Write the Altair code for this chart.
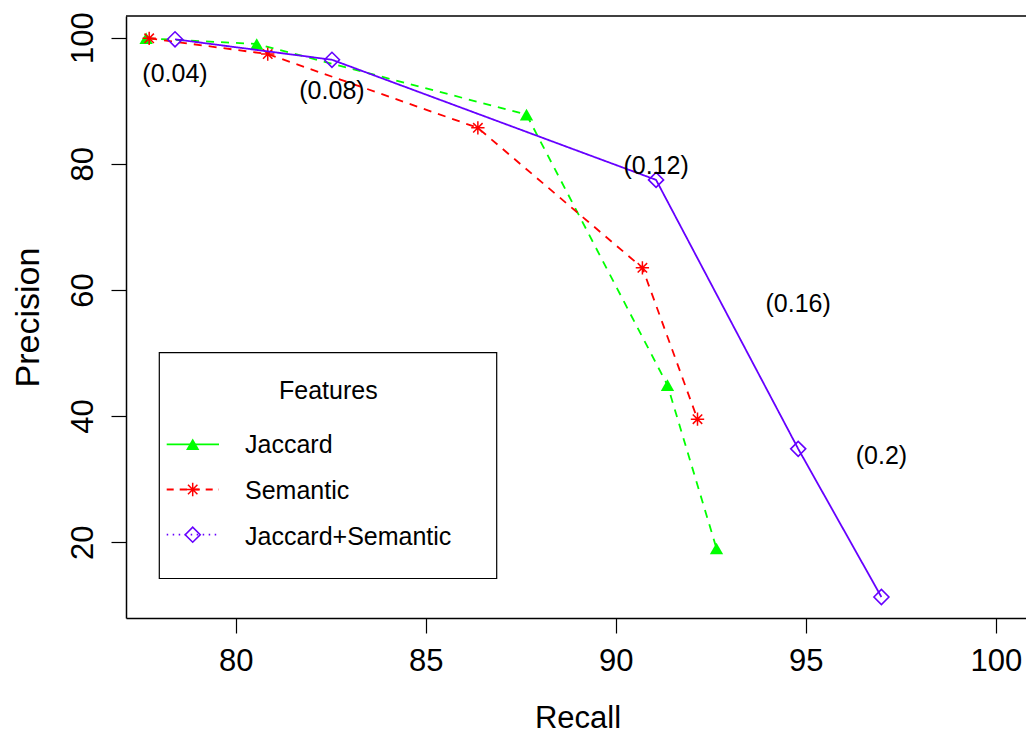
import altair as alt
import pandas as pd

# ---- data -------------------------------------------------------------
series_names = ["Jaccard", "Semantic", "Jaccard+Semantic"]
series_colors = ["#00FF00", "#FF0000", "#6600FF"]

jaccard_recall = [77.64, 80.55, 87.65, 91.36, 92.65]
jaccard_precision = [99.9, 99.0, 87.8, 44.9, 19.0]

semantic_recall = [77.72, 80.84, 86.37, 90.70, 92.15]
semantic_precision = [99.9, 97.4, 85.7, 63.5, 39.5]

combined_recall = [78.40, 82.53, 91.06, 94.80, 96.99]
combined_precision = [99.75, 96.5, 77.45, 34.8, 11.3]

threshold_labels = ["(0.04)", "(0.08)", "(0.12)", "(0.16)", "(0.2)"]
threshold_label_recall = [78.40, 82.53, 91.06, 94.80, 96.99]
threshold_label_precision = [94.2, 91.5, 79.7, 57.7, 33.6]

x_ticks = [80, 85, 90, 95, 100]
y_ticks = [20, 40, 60, 80, 100]

# ---- layout -----------------------------------------------------------
FONT = "Liberation Sans"
W, H = 900, 602
X_DOMAIN = [77.11, 100.795]
Y_DOMAIN = [7.97, 103.44]

frames = []
for name, rec, prec in zip(
    series_names,
    [jaccard_recall, semantic_recall, combined_recall],
    [jaccard_precision, semantic_precision, combined_precision],
):
    frames.append(pd.DataFrame({"series": name, "recall": rec, "precision": prec}))
df = pd.concat(frames, ignore_index=True)

labels_df = pd.DataFrame({
    "label": threshold_labels,
    "recall": threshold_label_recall,
    "precision": threshold_label_precision,
})

xs = alt.Scale(domain=X_DOMAIN, nice=False, zero=False)
ys = alt.Scale(domain=Y_DOMAIN, nice=False, zero=False)

x_axis = alt.Axis(
    values=x_ticks, title="Recall", grid=False,
    tickSize=15, tickColor="black", tickWidth=1.2,
    domainColor="black", domainWidth=1.5,
    labelFont=FONT, labelFontSize=31, labelColor="black",
    labelPadding=13, labelBaseline="top", labelFlush=False, labelOverlap=False,
    titleFont=FONT, titleFontSize=31, titleFontWeight="normal", titleColor="black",
    titleBaseline="alphabetic", titleAlign="center", titleX=451.5, titleY=109,
)
y_axis = alt.Axis(
    values=y_ticks, title="Precision", grid=False,
    tickSize=15, tickColor="black", tickWidth=1.2,
    domainColor="black", domainWidth=1.5,
    labelFont=FONT, labelFontSize=31, labelColor="black",
    labelAngle=270, labelAlign="center", labelBaseline="alphabetic",
    labelPadding=19, labelFlush=False, labelOverlap=False,
    titleFont=FONT, titleFontSize=34, titleFontWeight="normal", titleColor="black",
    titleAngle=270, titleBaseline="alphabetic", titleAlign="center",
    titleX=-88, titleY=301,
)

X = alt.X("recall:Q", scale=xs, axis=x_axis)
Y = alt.Y("precision:Q", scale=ys, axis=y_axis)

ASTERISK = ("M-1,0H1M0,-1V1"
            "M-0.707,-0.707L0.707,0.707M-0.707,0.707L0.707,-0.707")

line_dash = {"Jaccard": [8, 7], "Semantic": [8, 7], "Jaccard+Semantic": [1, 0]}
point_style = {
    "Jaccard": dict(shape="triangle-up", filled=True, size=178),
    "Semantic": dict(shape=ASTERISK, filled=False, size=178, strokeWidth=1.5),
    "Jaccard+Semantic": dict(shape="diamond", filled=False, size=225, strokeWidth=1.6),
}

layers = []
for name, color in zip(series_names, series_colors):
    base = alt.Chart(df).transform_filter(alt.datum.series == name).encode(x=X, y=Y)
    layers.append(base.mark_line(color=color, strokeDash=line_dash[name], strokeWidth=1.8))
    layers.append(base.mark_point(color=color, opacity=1, **point_style[name]))

layers.append(
    alt.Chart(labels_df).mark_text(
        font=FONT, fontSize=25, color="black", align="center", baseline="middle"
    ).encode(x=X, y=Y, text="label:N")
)

# top edge of the plot frame
one = pd.DataFrame({"k": [0]})
layers.append(
    alt.Chart(one).mark_rule(color="black", strokeWidth=1.5).encode(
        x=alt.value(0), x2=alt.value(W), y=alt.value(0)
    )
)

# ---- legend box -------------------------------------------------------
layers.append(
    alt.Chart(one).mark_rect(fill="white", stroke="black", strokeWidth=1.2).encode(
        x=alt.value(33.3), x2=alt.value(370.7), y=alt.value(336.7), y2=alt.value(562.5)
    )
)
layers.append(
    alt.Chart(one).mark_text(
        font=FONT, fontSize=25, color="black", align="center", baseline="alphabetic"
    ).encode(x=alt.value(202.3), y=alt.value(383.3), text=alt.value("Features"))
)

legend_dash = {"Jaccard": [1, 0], "Semantic": [7, 6], "Jaccard+Semantic": [1.5, 4.5]}
for i, (name, color) in enumerate(zip(series_names, series_colors)):
    y_line = 428.3 + i * 45.2
    y_text = 436.7 + i * 46.0
    layers.append(
        alt.Chart(one).mark_rule(color=color, strokeDash=legend_dash[name], strokeWidth=1.8).encode(
            x=alt.value(40.7), x2=alt.value(93), y=alt.value(y_line)
        )
    )
    layers.append(
        alt.Chart(one).mark_point(color=color, opacity=1, **point_style[name]).encode(
            x=alt.value(66.7), y=alt.value(y_line)
        )
    )
    layers.append(
        alt.Chart(one).mark_text(
            font=FONT, fontSize=25, color="black", align="left", baseline="alphabetic"
        ).encode(x=alt.value(119), y=alt.value(y_text), text=alt.value(name))
    )

chart = alt.layer(*layers).properties(
    width=W,
    height=H,
    padding={"left": 126, "top": 16, "right": 0, "bottom": 113},
    autosize=alt.AutoSizeParams(type="none"),
    background="white",
).configure_view(stroke=None)

chart.save("out.html", embed_options={"renderer": "svg", "actions": False})
